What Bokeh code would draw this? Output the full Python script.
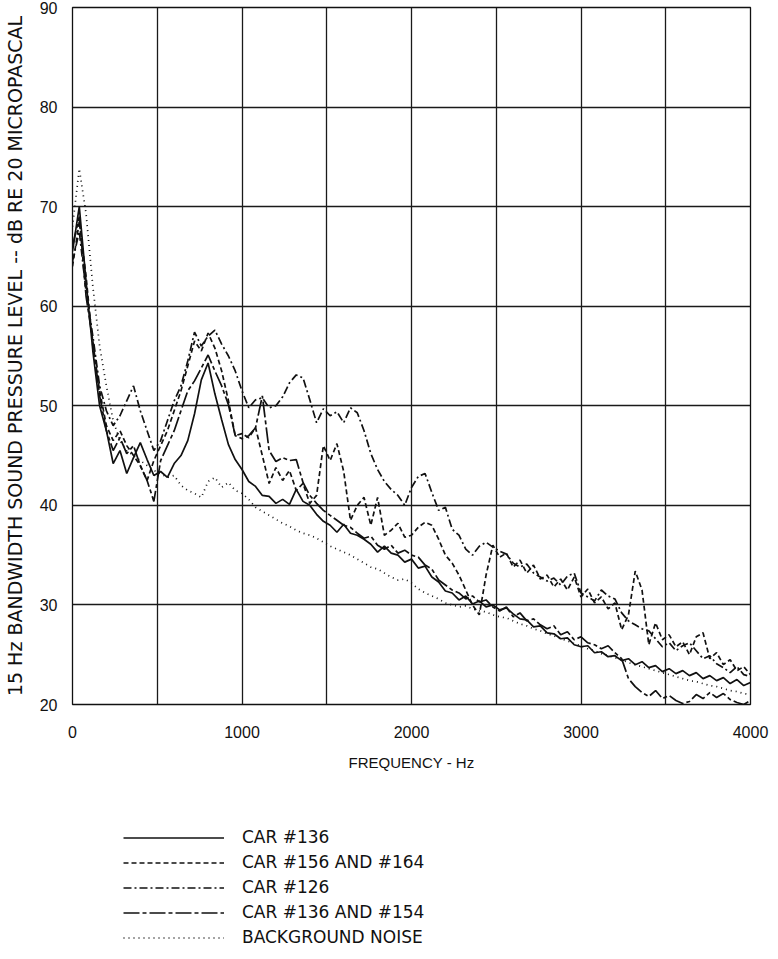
from bokeh.plotting import figure
from bokeh.layouts import column
from bokeh.models import Range1d, FixedTicker, Legend, LegendItem, ColumnDataSource
from bokeh.embed import file_html
from bokeh.resources import INLINE

# ---- data ----
FREQ = list(range(0, 4001, 40))  # Hz

CAR_136 = [
    65.5, 70.0, 62.5, 55.5, 50.0, 47.5, 44.2, 45.5, 43.2, 44.8,
    46.3, 44.6, 43.0, 43.4, 42.8, 44.2, 45.0, 46.5, 49.2, 52.6,
    54.3, 51.2, 48.6, 46.1, 44.6, 43.6, 42.4, 41.9, 41.0, 40.9,
    40.2, 40.6, 40.1, 41.6, 40.4, 40.0, 39.1, 38.4, 38.0, 37.3,
    38.1, 37.2, 37.0, 36.6, 36.1, 35.3, 35.9, 35.2, 35.0, 34.3,
    34.6, 33.7, 33.9, 32.8, 32.3, 31.4, 31.2, 30.5, 30.9, 30.1,
    30.4, 29.8, 30.0, 29.5, 29.7, 29.1, 28.6, 28.5, 27.8, 27.9,
    27.2, 27.1, 26.6, 26.7, 26.0, 25.8, 25.9, 25.2, 25.3, 24.8,
    24.9, 24.4, 24.6, 24.0, 24.3, 23.7, 23.9, 23.3, 23.6, 23.1,
    23.4, 22.9, 23.2, 22.6, 22.9, 22.4, 22.7, 22.1, 22.5, 21.9,
    22.2]

CAR_156_164 = [
    64.0, 68.5, 63.0, 56.0, 51.5, 48.0, 46.5, 47.5, 46.0, 45.0,
    44.0, 42.5, 44.5, 46.0, 47.5, 49.5, 51.5, 54.0, 56.5, 55.5,
    57.3, 55.8, 53.5, 50.5, 47.0, 47.2, 46.8, 47.8, 45.0, 42.2,
    43.8, 42.5, 43.5, 41.5, 42.2, 40.2, 41.0, 46.0, 44.5, 46.2,
    43.4, 38.5, 40.0, 40.8, 38.0, 40.8, 37.0, 37.5, 38.2, 36.8,
    37.0, 37.8, 38.3, 38.0, 36.6, 35.0, 34.2, 33.0, 31.5, 30.0,
    29.0, 33.0, 36.0, 34.8, 35.2, 33.8, 34.5, 33.2, 34.0, 32.6,
    33.0, 31.8, 32.6, 31.5, 32.8, 30.8, 31.6, 30.2, 30.8, 29.6,
    30.2, 27.5, 29.0, 33.4, 31.5, 26.0, 28.2, 26.5, 27.0, 25.8,
    26.3, 25.0, 26.8, 27.2, 24.6, 25.2, 24.0, 24.5, 23.4, 23.8,
    23.0]

CAR_126 = [
    64.5, 67.5, 61.5, 57.0, 52.0, 49.5, 48.0, 49.0, 50.5, 52.0,
    49.5, 47.5, 45.5, 46.5, 48.5, 50.5, 52.0, 54.5, 57.4, 56.0,
    57.0, 57.6, 56.2, 55.0, 53.5, 51.5, 49.8, 50.6, 50.8, 49.8,
    50.0, 50.9, 52.3, 53.1, 52.8, 50.6, 48.3, 49.7, 49.0, 49.4,
    48.3, 49.8, 49.3, 47.5, 45.2, 43.6, 42.4, 41.6, 41.0, 40.0,
    41.8, 42.9, 43.2, 41.3, 39.5, 39.8, 37.6, 37.0, 35.6, 35.0,
    35.9, 36.3, 35.8, 35.4, 35.1, 34.2, 33.8, 34.1, 33.2, 32.8,
    32.4, 32.7, 32.0, 32.9, 33.2, 31.2, 30.8, 30.4, 31.5, 30.9,
    30.6, 29.2, 28.4, 28.0, 27.6, 27.4, 26.6, 25.8, 26.2, 25.4,
    25.9, 26.2, 25.4, 24.6, 24.9, 24.1, 23.7, 23.2, 23.8, 23.0,
    22.8]

CAR_136_154 = [
    66.0, 69.0, 61.0, 56.5, 51.0, 47.5, 45.5, 46.8, 45.2, 46.0,
    44.0, 42.5, 40.4, 44.5, 46.0, 47.5, 49.5, 51.5, 52.5, 53.8,
    55.1, 53.5, 52.0, 50.1, 47.0, 46.7, 47.0, 47.8, 51.0, 45.5,
    44.4, 44.8, 44.5, 44.6, 42.3, 41.0, 40.2, 39.5, 39.0, 38.5,
    38.0, 37.8, 37.2, 36.7, 36.9, 36.0, 35.6, 36.0, 35.2, 35.5,
    35.0, 34.8, 34.0, 33.6, 32.5, 32.0, 31.5, 31.2, 30.6, 30.9,
    30.3, 30.5, 29.8, 29.4, 29.8, 28.8, 29.2, 28.4, 28.6, 28.0,
    27.6, 27.9, 27.0, 27.3, 26.5, 26.8, 26.2, 26.0, 25.6, 25.9,
    25.2, 24.6, 22.6, 21.8, 21.2, 20.8, 21.4, 20.6, 20.9, 20.4,
    20.1, 20.3, 21.0, 20.6, 21.2, 20.7, 21.1, 20.5, 20.2, 20.0,
    20.4]

BACKGROUND = [
    68.0, 73.8, 69.3, 62.0, 56.0, 52.0, 48.5, 46.5, 45.5, 45.0,
    44.5, 44.0, 43.5, 43.2, 42.8, 43.0, 42.0, 41.5, 41.2, 40.8,
    42.4, 42.8, 41.8, 42.3, 41.5, 41.2, 40.6, 39.8, 39.4, 39.0,
    38.6, 38.2, 37.9, 37.5, 37.2, 37.0, 36.7, 36.3, 35.9, 35.6,
    35.3, 35.0, 34.6, 34.2, 33.8, 33.6, 33.2, 32.8, 32.5, 32.6,
    32.2, 31.6, 31.2, 30.9, 30.6, 30.2, 30.0, 29.8, 29.9, 29.6,
    29.4, 29.3, 29.0, 28.8, 28.7, 28.4, 28.1, 27.9, 27.6, 27.4,
    27.1, 26.9, 26.6, 26.4, 26.1, 25.9, 25.6, 25.4, 25.1, 24.9,
    24.7, 24.5, 24.2, 24.0, 23.8, 23.6, 23.4, 23.2, 23.0, 22.8,
    22.6, 22.4, 22.3, 22.1, 21.9, 21.8, 21.6, 21.4, 21.3, 21.1,
    21.0]

SERIES_NAMES = ["CAR #136", "CAR #156 AND #164", "CAR #126",
                "CAR #136 AND #154", "BACKGROUND NOISE"]
SERIES_VALUES = [CAR_136, CAR_156_164, CAR_126, CAR_136_154, BACKGROUND]
SERIES_DASH = ["solid", "5 3", "8 3 2 3", "16 3 4 3", "1 4"]

X_TICKS = [0, 1000, 2000, 3000, 4000]
X_GRID = [0, 500, 1000, 1500, 2000, 2500, 3000, 3500, 4000]
Y_TICKS = [20, 30, 40, 50, 60, 70, 80, 90]

INK = "#111111"

# ---- main chart ----
p = figure(width=770, height=804, output_backend="svg", toolbar_location=None,
           x_range=Range1d(0, 4000), y_range=Range1d(20, 90),
           min_border_left=70, min_border_right=20, min_border_top=7,
           min_border_bottom=100)
p.background_fill_color = "white"
p.border_fill_color = "white"
p.outline_line_color = INK
p.outline_line_width = 1.3

p.xaxis.ticker = FixedTicker(ticks=X_TICKS)
p.yaxis.ticker = FixedTicker(ticks=Y_TICKS)
p.xgrid.ticker = FixedTicker(ticks=X_GRID)
p.ygrid.ticker = FixedTicker(ticks=Y_TICKS)
for g in (p.xgrid, p.ygrid):
    g.grid_line_color = "#1a1a1a"
    g.grid_line_width = 1.3
    g.grid_line_alpha = 1.0

for ax in (p.xaxis, p.yaxis):
    ax.axis_line_color = None
    ax.major_tick_line_color = None
    ax.minor_tick_line_color = None
    ax.major_tick_out = 0
    ax.major_tick_in = 0
    ax.major_label_text_font = "Liberation Sans"
    ax.major_label_text_font_size = "16px"
    ax.major_label_text_color = INK
    ax.axis_label_text_font_style = "normal"
    ax.axis_label_text_color = INK

p.xaxis.axis_label = "FREQUENCY - Hz"
p.yaxis.axis_label = "15 Hz BANDWIDTH SOUND PRESSURE LEVEL -- dB RE 20 MICROPASCAL"
p.xaxis.axis_label_text_font = "Liberation Sans"
p.xaxis.axis_label_text_font_size = "15px"
p.yaxis.axis_label_text_font = "DejaVu Sans"
p.yaxis.axis_label_text_font_size = "19px"
p.xaxis.major_label_standoff = 21
p.xaxis.axis_label_standoff = 13
p.yaxis.major_label_standoff = 15
p.yaxis.axis_label_standoff = 11

sources = []
for name, vals, dash in zip(SERIES_NAMES, SERIES_VALUES, SERIES_DASH):
    src = ColumnDataSource(dict(f=FREQ, db=vals))
    sources.append(src)
    p.line("f", "db", source=src, line_color=INK, line_width=1.7, line_dash=dash)

# ---- legend strip below the chart (its frame is aligned with the chart's) ----
leg = figure(width=770, height=146, output_backend="svg", toolbar_location=None,
             x_axis_type=None, y_axis_type=None, min_border=0,
             x_range=Range1d(0, 4000), y_range=Range1d(20, 90))
leg.outline_line_color = None
leg.background_fill_color = "white"
leg.border_fill_color = "white"
leg.grid.visible = False

items = []
for name, src, dash in zip(SERIES_NAMES, sources, SERIES_DASH):
    r = leg.line("f", "db", source=src, line_color=INK, line_width=1.6,
                 line_dash=dash, visible=False)
    items.append(LegendItem(label=name, renderers=[r]))

legend = Legend(items=items, location=(51, 3), orientation="vertical",
                glyph_width=101, glyph_height=19, label_height=19,
                label_standoff=18, spacing=5, padding=0, margin=0,
                border_line_color=None, background_fill_alpha=0,
                inactive_fill_alpha=0,
                label_text_font="DejaVu Sans", label_text_font_size="17px",
                label_text_color=INK)
leg.add_layout(legend)

layout = column(p, leg, spacing=0)
open("out.html", "w").write(file_html(layout, INLINE))
